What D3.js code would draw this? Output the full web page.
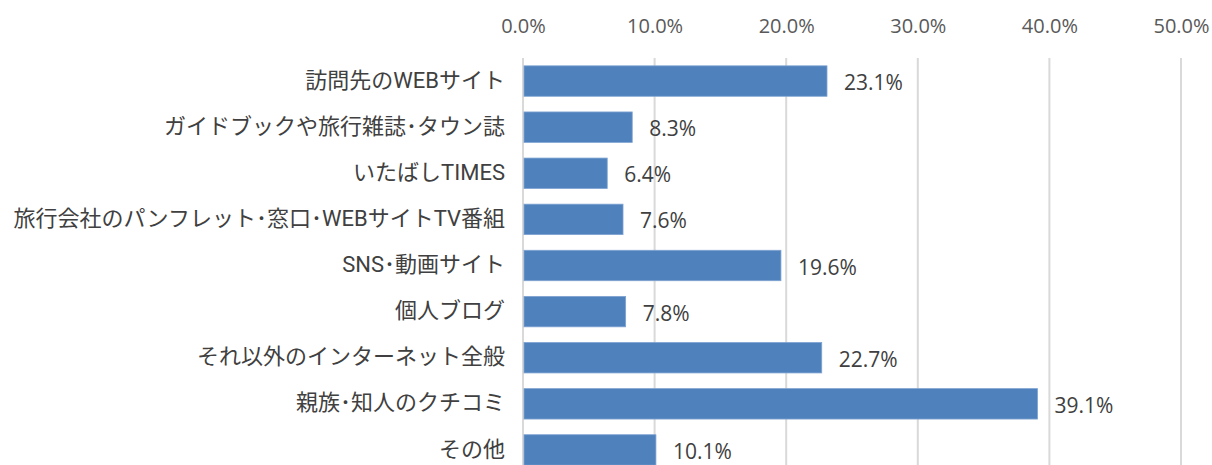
<!DOCTYPE html>
<html><head><meta charset="utf-8">
<script src="https://cdn.jsdelivr.net/npm/d3@7"></script>
<style>
html,body{margin:0;padding:0;background:#fff;}
svg{display:block;}
</style></head>
<body>
<svg id="chart" width="1212" height="465"></svg>
<script>
const categories = [
  "訪問先のWEBサイト",
  "ガイドブックや旅行雑誌･タウン誌",
  "いたばしTIMES",
  "旅行会社のパンフレット･窓口･WEBサイトTV番組",
  "SNS･動画サイト",
  "個人ブログ",
  "それ以外のインターネット全般",
  "親族･知人のクチコミ",
  "その他"
];
const values = [0.231, 0.083, 0.064, 0.076, 0.196, 0.078, 0.227, 0.391, 0.101];
const tickValues = [0, 0.1, 0.2, 0.3, 0.4, 0.5];

const svg = d3.select("#chart");
const x = d3.scaleLinear().domain([0, 0.5]).range([523, 1181]);
const y = d3.scaleBand().domain(categories).range([58, 473]).paddingInner(0.34).paddingOuter(0.17);

// gridlines
svg.append("g").selectAll("line").data(tickValues).join("line")
  .attr("x1", d => x(d)).attr("x2", d => x(d))
  .attr("y1", 58).attr("y2", 465)
  .attr("stroke", "#d9d9d9").attr("stroke-width", 2);

// top axis labels
const fmt = d3.format(".1%");
const ax = d3.axisTop(x).tickValues(tickValues).tickFormat(fmt).tickSize(0);
const axG = svg.append("g").attr("transform", "translate(0,33)").call(ax);
axG.select(".domain").remove();
axG.selectAll("text")
  .attr("dy", 0).attr("y", 0)
  .attr("fill", "#595959")
  .style("font-family", "'Open Sans', sans-serif")
  .style("font-size", "20px");

// bars
svg.append("g").selectAll("rect").data(values).join("rect")
  .attr("x", x(0) + 1)
  .attr("y", (d, i) => y(categories[i]))
  .attr("width", d => x(d) - x(0) - 1)
  .attr("height", y.bandwidth())
  .attr("fill", "#4f81bd")
  .attr("stroke", "#7ea3d1").attr("stroke-width", 0.8);

// value labels
svg.append("g").selectAll("text").data(values).join("text")
  .attr("x", d => x(d) + 17)
  .attr("y", (d, i) => y(categories[i]) + y.bandwidth() / 2 + 9)
  .attr("fill", "#404040")
  .style("font-family", "'Open Sans', sans-serif")
  .style("font-size", "21px")
  .text(d => fmt(d));

// category labels
const yAx = d3.axisLeft(y).tickSize(0);
const yG = svg.append("g").attr("transform", "translate(505,0)").call(yAx);
yG.select(".domain").remove();
yG.selectAll("text")
  .attr("x", 0)
  .attr("dy", "0.3em")
  .attr("fill", "#404040")
  .style("font-family", "Roboto, 'Noto Sans CJK JP', sans-serif")
  .style("font-size", "22px");
</script>
</body></html>
